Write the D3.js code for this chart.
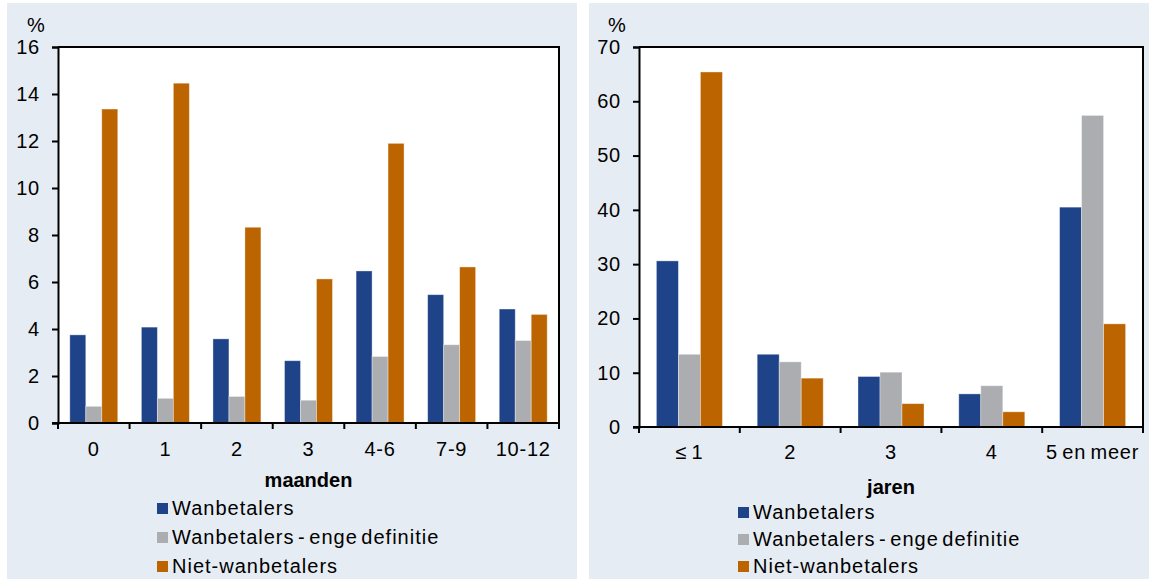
<!DOCTYPE html>
<html>
<head>
<meta charset="utf-8">
<script src="https://cdn.jsdelivr.net/npm/d3@7"></script>
<style>
  html, body { margin: 0; padding: 0; background: #ffffff; }
  svg { display: block; font-family: "Liberation Sans", Arial, sans-serif; }
</style>
</head>
<body>
<svg id="chart" width="1150" height="581"></svg>
<script>
// Series names and colours (shared by both panels)
const seriesNames = ["Wanbetalers", "Wanbetalers - enge definitie", "Niet-wanbetalers"];
const seriesColors = ["#1f4388", "#acadb1", "#bc6500"];

// Left panel: months
const monthCategories = ["0", "1", "2", "3", "4-6", "7-9", "10-12"];
const monthWanbetalers = [3.75, 4.08, 3.58, 2.65, 6.47, 5.46, 4.85];
const monthEngeDefinitie = [0.71, 1.05, 1.13, 0.97, 2.83, 3.33, 3.51];
const monthNietWanbetalers = [13.36, 14.46, 8.33, 6.13, 11.9, 6.64, 4.62];
const monthTicks = [0, 2, 4, 6, 8, 10, 12, 14, 16];

// Right panel: years
const yearCategories = ["\u2264 1", "2", "3", "4", "5 en meer"];
const yearWanbetalers = [30.6, 13.4, 9.3, 6.1, 40.5];
const yearEngeDefinitie = [13.4, 12.0, 10.1, 7.6, 57.4];
const yearNietWanbetalers = [65.4, 9.0, 4.3, 2.8, 19.0];
const yearTicks = [0, 10, 20, 30, 40, 50, 60, 70];

const svg = d3.select("#chart");

function drawPanel(cfg) {
  const g = svg.append("g");

  // panel background
  g.append("rect")
    .attr("x", cfg.bg[0]).attr("y", cfg.bg[1])
    .attr("width", cfg.bg[2]).attr("height", cfg.bg[3])
    .attr("fill", "#e6ecf3");

  const x = d3.scaleBand()
    .domain(cfg.categories)
    .range([cfg.left, cfg.right])
    .padding(0);

  const inner = d3.scaleBand()
    .domain(d3.range(cfg.series.length))
    .range([x.step() * cfg.groupPad / 2, x.step() * (1 - cfg.groupPad / 2)])
    .padding(0);

  const y = d3.scaleLinear()
    .domain([0, cfg.max])
    .range([cfg.bottom, cfg.top]);

  // plot area
  g.append("rect")
    .attr("x", cfg.left).attr("y", cfg.top)
    .attr("width", cfg.right - cfg.left).attr("height", cfg.bottom - cfg.top)
    .attr("fill", "#ffffff");

  // bars
  cfg.series.forEach((vals, si) => {
    g.append("g").selectAll("rect")
      .data(vals)
      .join("rect")
      .attr("x", (d, i) => x(cfg.categories[i]) + inner(si))
      .attr("width", inner.bandwidth())
      .attr("y", d => y(d))
      .attr("height", d => y(0) - y(d))
      .attr("fill", seriesColors[si])
      .attr("stroke", "rgba(255,255,255,0.45)")
      .attr("stroke-width", 0.8);
  });

  // frame (top and right)
  g.append("path")
    .attr("d", `M${cfg.left},${cfg.top}H${cfg.right}V${cfg.bottom}`)
    .attr("fill", "none")
    .attr("stroke", "#000")
    .attr("stroke-width", 2);

  // y axis
  const yAxis = d3.axisLeft(y)
    .tickValues(cfg.ticks)
    .tickSize(6)
    .tickPadding(12)
    .tickFormat(d3.format("d"));
  const ya = g.append("g")
    .attr("transform", `translate(${cfg.left},0)`)
    .call(yAxis);
  ya.select(".domain").attr("stroke", "#000").attr("stroke-width", 2);
  ya.selectAll(".tick line").attr("stroke", "#000").attr("stroke-width", 2);
  ya.selectAll(".tick text")
    .attr("font-size", 20)
    .attr("letter-spacing", 0.8)
    .attr("fill", "#000")
    .attr("font-family", "Liberation Sans, Arial, sans-serif");

  // x axis: ticks at category boundaries
  const xa = g.append("g").attr("transform", `translate(0,${cfg.bottom})`);
  xa.append("line")
    .attr("x1", cfg.left - 6).attr("x2", cfg.right)
    .attr("stroke", "#000").attr("stroke-width", 2);
  const bounds = cfg.categories.map(c => x(c)).concat([cfg.right]);
  xa.selectAll("line.tk")
    .data(bounds)
    .join("line")
    .attr("class", "tk")
    .attr("x1", d => d).attr("x2", d => d)
    .attr("y1", 0).attr("y2", 6)
    .attr("stroke", "#000").attr("stroke-width", 2);
  xa.selectAll("text")
    .data(cfg.categories)
    .join("text")
    .attr("x", d => x(d) + x.bandwidth() / 2)
    .attr("y", cfg.xLabelDy)
    .attr("text-anchor", "middle")
    .attr("font-size", 20)
    .attr("letter-spacing", 0.8)
    .attr("word-spacing", -2)
    .attr("fill", "#000")
    .text(d => d);

  // axis title
  g.append("text")
    .attr("x", (cfg.left + cfg.right) / 2)
    .attr("y", cfg.bottom + cfg.titleDy)
    .attr("text-anchor", "middle")
    .attr("font-size", 20)
    .attr("font-weight", "bold")
    .attr("fill", "#000")
    .text(cfg.title);

  // unit label
  g.append("text")
    .attr("x", cfg.left - 22)
    .attr("y", cfg.top - 15)
    .attr("text-anchor", "middle")
    .attr("font-size", 20)
    .attr("fill", "#000")
    .text("%");

  // legend
  const lg = g.append("g").attr("transform", `translate(${cfg.legend[0]},${cfg.legend[1]})`);
  seriesNames.forEach((name, i) => {
    const row = lg.append("g").attr("transform", `translate(0,${i * cfg.legendStep})`);
    row.append("rect")
      .attr("x", 0).attr("y", -12)
      .attr("width", 11).attr("height", 11)
      .attr("fill", seriesColors[i]);
    row.append("text")
      .attr("x", 15).attr("y", 0)
      .attr("font-size", 20)
      .attr("letter-spacing", 1)
      .attr("word-spacing", -3)
      .attr("fill", "#000")
      .text(name);
  });
}

drawPanel({
  bg: [7, 3, 570, 576],
  categories: monthCategories,
  series: [monthWanbetalers, monthEngeDefinitie, monthNietWanbetalers],
  ticks: monthTicks,
  max: 16,
  left: 58, right: 559, top: 47, bottom: 423,
  groupPad: 0.33,
  xLabelDy: 33,
  titleDy: 64,
  title: "maanden",
  legend: [157, 515],
  legendStep: 29
});

drawPanel({
  bg: [589, 3, 560, 576],
  categories: yearCategories,
  series: [yearWanbetalers, yearEngeDefinitie, yearNietWanbetalers],
  ticks: yearTicks,
  max: 70,
  left: 639, right: 1143, top: 47, bottom: 427,
  groupPad: 0.345,
  xLabelDy: 32,
  titleDy: 67,
  title: "jaren",
  legend: [738, 519],
  legendStep: 27
});
</script>
</body>
</html>
